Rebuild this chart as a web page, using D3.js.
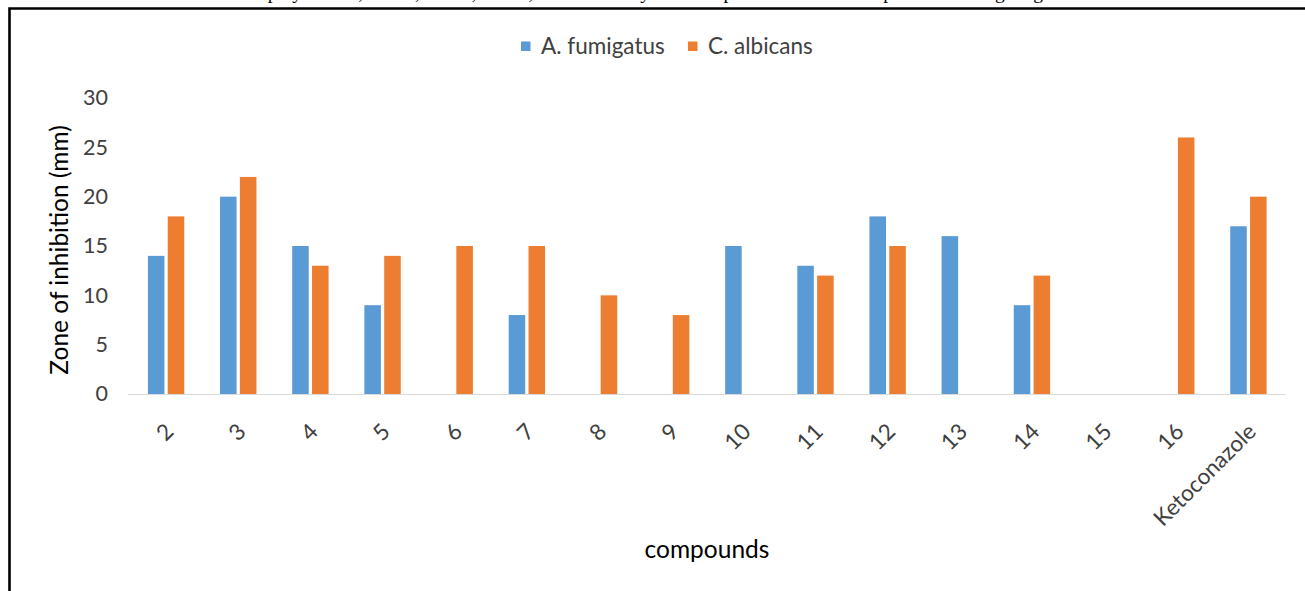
<!DOCTYPE html>
<html><head><meta charset="utf-8">
<script src="https://cdn.jsdelivr.net/npm/d3@7"></script>
<style>html,body{margin:0;padding:0;background:#fff;overflow:hidden}</style>
</head><body>
<svg id="c" width="1305" height="591"></svg>
<script>
const categories = ["2","3","4","5","6","7","8","9","10","11","12","13","14","15","16","Ketoconazole"];
const seriesNames = ["A. fumigatus","C. albicans"];
const fumigatus = [14,20,15,9,0,8,0,0,15,13,18,16,9,0,0,17];
const albicans  = [18,22,13,14,15,15,10,8,0,12,15,0,12,0,26,20];
const yTicks = [0,5,10,15,20,25,30];
const colors = ["#5B9BD5","#ED7D31"];
const captionText = "were screened and all of them displayed best, 16-36, 16-38, 16-40, 16-46 activity and compound 16 was most potent antifungal against C. albicans.";

const svg = d3.select("#c");
const font = "Lato, 'Open Sans', sans-serif";
const txt = "#404040";

// caption cut at top (as in the reference)
svg.append("text").attr("x", 0).attr("y", -1).attr("font-family","'Liberation Serif', serif")
  .attr("font-size", 19.5).attr("fill","#000").attr("textLength", 1180).text(captionText);

// frame
svg.append("path").attr("d","M9.5,591 L9.5,8.5 L1305,8.5").attr("fill","none")
  .attr("stroke","#000").attr("stroke-width",2.6);

const x0 = d3.scaleBand().domain(categories).range([130,1284.5]).paddingInner(0.45).paddingOuter(0.225);
const x1 = d3.scaleBand().domain(seriesNames).range([0, x0.bandwidth()]).padding(0);
const y = d3.scaleLinear().domain([0,30]).range([394,98]);

// y tick labels
const yAxis = d3.axisLeft(y).tickValues(yTicks).tickSize(0).tickPadding(22);
const gy = svg.append("g").attr("transform","translate(130,0)").call(yAxis);
gy.select(".domain").remove();
gy.selectAll("text").attr("font-family",font).attr("font-size",21.5).attr("fill",txt);

// x axis line
const xAxis = d3.axisBottom(x0).tickSize(0).tickPadding(0);
const gx = svg.append("g").attr("transform","translate(0,394)").call(xAxis);
gx.select(".domain").attr("stroke","#d9d9d9").attr("stroke-width",1.2)
  .attr("d","M128,0.5H1285.5");
gx.selectAll("text").attr("font-family",font).attr("font-size",22.5).attr("fill",txt)
  .attr("text-anchor","end").attr("dy",0).attr("y",0)
  .attr("transform","translate(9,39) rotate(-45)");

// bars
const gap = 3.3;
const data = categories.map((c,i)=>({c, vals:[fumigatus[i], albicans[i]]}));
const g = svg.append("g");
data.forEach(d=>{
  d.vals.forEach((v,k)=>{
    if (v<=0) return;
    g.append("rect")
      .attr("x", x0(d.c)+x1(seriesNames[k])+gap/2)
      .attr("y", y(v))
      .attr("width", x1.bandwidth()-gap)
      .attr("height", y(0)-y(v))
      .attr("fill", colors[k]);
  });
});

// axis titles
svg.append("text").attr("transform","translate(68,250) rotate(-90)").attr("text-anchor","middle")
  .attr("font-family",font).attr("font-size",24.5).attr("fill","#000").text("Zone of inhibition (mm)");
svg.append("text").attr("x",707).attr("y",558).attr("text-anchor","middle")
  .attr("font-family",font).attr("font-size",24.5).attr("fill","#000").text("compounds");

// legend
const leg = svg.append("g");
const legX = [521, 688];
seriesNames.forEach((n,k)=>{
  leg.append("rect").attr("x",legX[k]).attr("y",41.5).attr("width",9.5).attr("height",9.5).attr("fill",colors[k]);
  leg.append("text").attr("x",legX[k]+20).attr("y",54).attr("font-family",font).attr("font-size",22.5)
    .attr("fill",txt).text(n);
});
</script>
</body></html>
